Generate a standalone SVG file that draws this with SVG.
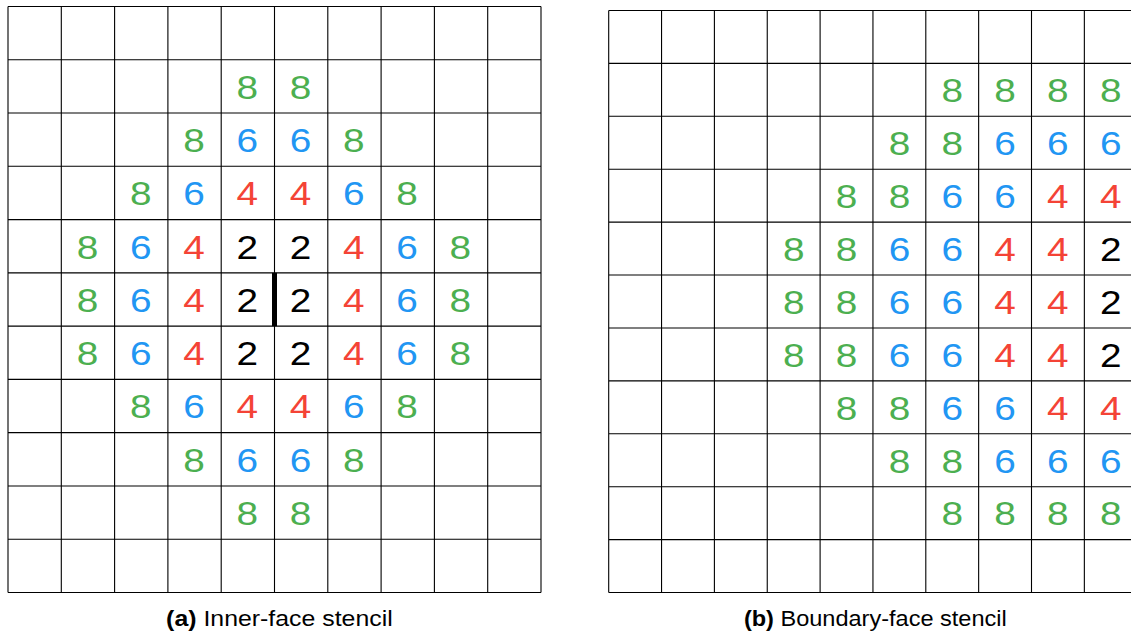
<svg xmlns="http://www.w3.org/2000/svg" width="1131" height="635" viewBox="0 0 1131 635">
<style>
.grid{fill:none;stroke:#000;stroke-width:1.1}
.n{font-family:"Liberation Sans",Arial,sans-serif;font-size:34px;text-anchor:middle}
.g{fill:#4caf50}.b{fill:#2196f3}.r{fill:#f44336}.k{fill:#000}
.cap{font-family:"Liberation Sans",Arial,sans-serif;font-size:22px;text-anchor:middle;fill:#000}
</style>
<rect width="1131" height="635" fill="#fff"/>
<g id="gridA">
<path class="grid" d="M8,6.5V592.5M61.3,6.5V592.5M114.6,6.5V592.5M167.9,6.5V592.5M221.2,6.5V592.5M274.5,6.5V592.5M327.8,6.5V592.5M381.1,6.5V592.5M434.4,6.5V592.5M487.7,6.5V592.5M541,6.5V592.5
M8,6.5H541M8,59.77H541M8,113.04H541M8,166.31H541M8,219.58H541M8,272.85H541M8,326.12H541M8,379.39H541M8,432.66H541M8,485.93H541M8,539.2H541M8,592.5H541"/>
<rect id="face" x="272" y="272.85" width="5" height="53.27" fill="#000"/>
<g class="n" transform="scale(1.14 1)">
<text class="g" x="216.84" y="98.8">8</text><text class="g" x="263.6" y="98.8">8</text>
<text class="g" x="170.18" y="152.1">8</text><text class="b" x="216.84" y="152.1">6</text><text class="b" x="263.6" y="152.1">6</text><text class="g" x="310.35" y="152.1">8</text>
<text class="g" x="123.42" y="205.4">8</text><text class="b" x="170.18" y="205.4">6</text><text class="r" x="216.84" y="205.4">4</text><text class="r" x="263.6" y="205.4">4</text><text class="b" x="310.35" y="205.4">6</text><text class="g" x="357.11" y="205.4">8</text>
<text class="g" x="76.67" y="258.6">8</text><text class="b" x="123.42" y="258.6">6</text><text class="r" x="170.18" y="258.6">4</text><text class="k" x="216.84" y="258.6">2</text><text class="k" x="263.6" y="258.6">2</text><text class="r" x="310.35" y="258.6">4</text><text class="b" x="357.11" y="258.6">6</text><text class="g" x="403.86" y="258.6">8</text>
<text class="g" x="76.67" y="311.9">8</text><text class="b" x="123.42" y="311.9">6</text><text class="r" x="170.18" y="311.9">4</text><text class="k" x="216.84" y="311.9">2</text><text class="k" x="263.6" y="311.9">2</text><text class="r" x="310.35" y="311.9">4</text><text class="b" x="357.11" y="311.9">6</text><text class="g" x="403.86" y="311.9">8</text>
<text class="g" x="76.67" y="365.2">8</text><text class="b" x="123.42" y="365.2">6</text><text class="r" x="170.18" y="365.2">4</text><text class="k" x="216.84" y="365.2">2</text><text class="k" x="263.6" y="365.2">2</text><text class="r" x="310.35" y="365.2">4</text><text class="b" x="357.11" y="365.2">6</text><text class="g" x="403.86" y="365.2">8</text>
<text class="g" x="123.42" y="418.4">8</text><text class="b" x="170.18" y="418.4">6</text><text class="r" x="216.84" y="418.4">4</text><text class="r" x="263.6" y="418.4">4</text><text class="b" x="310.35" y="418.4">6</text><text class="g" x="357.11" y="418.4">8</text>
<text class="g" x="170.18" y="471.7">8</text><text class="b" x="216.84" y="471.7">6</text><text class="b" x="263.6" y="471.7">6</text><text class="g" x="310.35" y="471.7">8</text>
<text class="g" x="216.84" y="525">8</text><text class="g" x="263.6" y="525">8</text>
</g>
<text class="cap" transform="scale(1.13 1)" x="247.26" y="626.5"><tspan font-weight="bold">(a)</tspan> Inner-face stencil</text>
</g>
<g id="gridB">
<path class="grid" d="M608.7,10.5V592.5M661.55,10.5V592.5M714.4,10.5V592.5M767.25,10.5V592.5M820.1,10.5V592.5M872.95,10.5V592.5M925.8,10.5V592.5M978.65,10.5V592.5M1031.5,10.5V592.5M1084.35,10.5V592.5M1137.2,10.5V592.5
M608.7,10.5H1137.2M608.7,63.41H1137.2M608.7,116.32H1137.2M608.7,169.23H1137.2M608.7,222.14H1137.2M608.7,275.05H1137.2M608.7,327.96H1137.2M608.7,380.87H1137.2M608.7,433.78H1137.2M608.7,486.69H1137.2M608.7,539.6H1137.2M608.7,592.5H1137.2"/>
<g class="n" transform="scale(1.14 1)">
<text class="g" x="835.26" y="102.3">8</text><text class="g" x="881.67" y="102.3">8</text><text class="g" x="927.98" y="102.3">8</text><text class="g" x="974.39" y="102.3">8</text>
<text class="g" x="788.95" y="155.2">8</text><text class="g" x="835.26" y="155.2">8</text><text class="b" x="881.67" y="155.2">6</text><text class="b" x="927.98" y="155.2">6</text><text class="b" x="974.39" y="155.2">6</text>
<text class="g" x="742.54" y="208.1">8</text><text class="g" x="788.95" y="208.1">8</text><text class="b" x="835.26" y="208.1">6</text><text class="b" x="881.67" y="208.1">6</text><text class="r" x="927.98" y="208.1">4</text><text class="r" x="974.39" y="208.1">4</text>
<text class="g" x="696.23" y="261">8</text><text class="g" x="742.54" y="261">8</text><text class="b" x="788.95" y="261">6</text><text class="b" x="835.26" y="261">6</text><text class="r" x="881.67" y="261">4</text><text class="r" x="927.98" y="261">4</text><text class="k" x="974.39" y="261">2</text>
<text class="g" x="696.23" y="313.9">8</text><text class="g" x="742.54" y="313.9">8</text><text class="b" x="788.95" y="313.9">6</text><text class="b" x="835.26" y="313.9">6</text><text class="r" x="881.67" y="313.9">4</text><text class="r" x="927.98" y="313.9">4</text><text class="k" x="974.39" y="313.9">2</text>
<text class="g" x="696.23" y="366.8">8</text><text class="g" x="742.54" y="366.8">8</text><text class="b" x="788.95" y="366.8">6</text><text class="b" x="835.26" y="366.8">6</text><text class="r" x="881.67" y="366.8">4</text><text class="r" x="927.98" y="366.8">4</text><text class="k" x="974.39" y="366.8">2</text>
<text class="g" x="742.54" y="419.7">8</text><text class="g" x="788.95" y="419.7">8</text><text class="b" x="835.26" y="419.7">6</text><text class="b" x="881.67" y="419.7">6</text><text class="r" x="927.98" y="419.7">4</text><text class="r" x="974.39" y="419.7">4</text>
<text class="g" x="788.95" y="472.6">8</text><text class="g" x="835.26" y="472.6">8</text><text class="b" x="881.67" y="472.6">6</text><text class="b" x="927.98" y="472.6">6</text><text class="b" x="974.39" y="472.6">6</text>
<text class="g" x="835.26" y="525.5">8</text><text class="g" x="881.67" y="525.5">8</text><text class="g" x="927.98" y="525.5">8</text><text class="g" x="974.39" y="525.5">8</text>
</g>
<text class="cap" transform="scale(1.07 1)" x="818.04" y="626.5"><tspan font-weight="bold">(b)</tspan> Boundary-face stencil</text>
</g>
</svg>
